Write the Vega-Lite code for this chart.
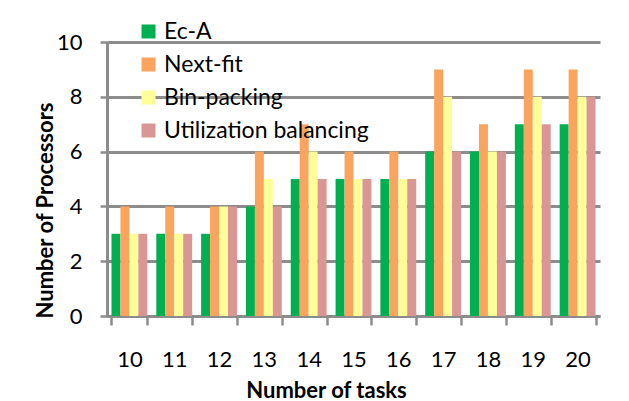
{
  "$schema": "https://vega.github.io/schema/vega-lite/v6.json",
  "width": 493,
  "height": 274,
  "autosize": {"type": "none"},
  "padding": {"left": 107, "top": 42, "right": 29, "bottom": 85},
  "background": "white",
  "config": {
    "font": "Lato",
    "view": {"stroke": null},
    "axis": {"labelFont": "Lato", "titleFont": "Lato", "labelColor": "black", "titleColor": "black"}
  },
  "data": {
    "values": [
      {"tasks": "10", "series": "Ec-A", "value": 3},
      {"tasks": "10", "series": "Next-fit", "value": 4},
      {"tasks": "10", "series": "Bin-packing", "value": 3},
      {"tasks": "10", "series": "Utilization balancing", "value": 3},
      {"tasks": "11", "series": "Ec-A", "value": 3},
      {"tasks": "11", "series": "Next-fit", "value": 4},
      {"tasks": "11", "series": "Bin-packing", "value": 3},
      {"tasks": "11", "series": "Utilization balancing", "value": 3},
      {"tasks": "12", "series": "Ec-A", "value": 3},
      {"tasks": "12", "series": "Next-fit", "value": 4},
      {"tasks": "12", "series": "Bin-packing", "value": 4},
      {"tasks": "12", "series": "Utilization balancing", "value": 4},
      {"tasks": "13", "series": "Ec-A", "value": 4},
      {"tasks": "13", "series": "Next-fit", "value": 6},
      {"tasks": "13", "series": "Bin-packing", "value": 5},
      {"tasks": "13", "series": "Utilization balancing", "value": 4},
      {"tasks": "14", "series": "Ec-A", "value": 5},
      {"tasks": "14", "series": "Next-fit", "value": 7},
      {"tasks": "14", "series": "Bin-packing", "value": 6},
      {"tasks": "14", "series": "Utilization balancing", "value": 5},
      {"tasks": "15", "series": "Ec-A", "value": 5},
      {"tasks": "15", "series": "Next-fit", "value": 6},
      {"tasks": "15", "series": "Bin-packing", "value": 5},
      {"tasks": "15", "series": "Utilization balancing", "value": 5},
      {"tasks": "16", "series": "Ec-A", "value": 5},
      {"tasks": "16", "series": "Next-fit", "value": 6},
      {"tasks": "16", "series": "Bin-packing", "value": 5},
      {"tasks": "16", "series": "Utilization balancing", "value": 5},
      {"tasks": "17", "series": "Ec-A", "value": 6},
      {"tasks": "17", "series": "Next-fit", "value": 9},
      {"tasks": "17", "series": "Bin-packing", "value": 8},
      {"tasks": "17", "series": "Utilization balancing", "value": 6},
      {"tasks": "18", "series": "Ec-A", "value": 6},
      {"tasks": "18", "series": "Next-fit", "value": 7},
      {"tasks": "18", "series": "Bin-packing", "value": 6},
      {"tasks": "18", "series": "Utilization balancing", "value": 6},
      {"tasks": "19", "series": "Ec-A", "value": 7},
      {"tasks": "19", "series": "Next-fit", "value": 9},
      {"tasks": "19", "series": "Bin-packing", "value": 8},
      {"tasks": "19", "series": "Utilization balancing", "value": 7},
      {"tasks": "20", "series": "Ec-A", "value": 7},
      {"tasks": "20", "series": "Next-fit", "value": 9},
      {"tasks": "20", "series": "Bin-packing", "value": 8},
      {"tasks": "20", "series": "Utilization balancing", "value": 8}
    ]
  },
  "mark": {"type": "bar"},
  "encoding": {
    "x": {
      "field": "tasks",
      "type": "ordinal",
      "scale": {"paddingInner": 0.2, "paddingOuter": 0.1},
      "axis": {
        "title": "Number of tasks",
        "titleFontSize": 22,
        "titleFontWeight": "bold",
        "titleX": 219,
        "titleY": 81,
        "titleBaseline": "alphabetic",
        "labelAngle": 0,
        "labelFontSize": 22,
        "labelPadding": 24,
        "tickBand": "extent",
        "tickSize": 9,
        "tickWidth": 2.5,
        "tickColor": "#8c8c8c",
        "domainColor": "#8c8c8c",
        "domainWidth": 3,
        "grid": false
      }
    },
    "xOffset": {
      "field": "series",
      "type": "nominal",
      "sort": ["Ec-A", "Next-fit", "Bin-packing", "Utilization balancing"]
    },
    "y": {
      "field": "value",
      "type": "quantitative",
      "scale": {"domain": [0, 10]},
      "axis": {
        "title": "Number of Processors",
        "titleFontSize": 22,
        "titleFontWeight": "bold",
        "titleX": -62,
        "titleY": 168,
        "titleAngle": -90,
        "titleAlign": "center",
        "titleBaseline": "middle",
        "values": [0, 2, 4, 6, 8, 10],
        "labelFontSize": 22,
        "labelPadding": 18,
        "tickSize": 7,
        "tickWidth": 2.5,
        "tickColor": "#8c8c8c",
        "domainColor": "#8c8c8c",
        "domainWidth": 3,
        "grid": true,
        "gridColor": "#8c8c8c",
        "gridWidth": 3
      }
    },
    "color": {
      "field": "series",
      "type": "nominal",
      "sort": ["Ec-A", "Next-fit", "Bin-packing", "Utilization balancing"],
      "scale": {
        "domain": ["Ec-A", "Next-fit", "Bin-packing", "Utilization balancing"],
        "range": ["#00b050", "#fba45f", "#ffff99", "#d99694"]
      },
      "legend": {
        "title": null,
        "orient": "none",
        "legendX": 30,
        "legendY": -22,
        "symbolType": "square",
        "symbolSize": 196,
        "symbolStrokeWidth": 0,
        "labelFontSize": 23,
        "labelFont": "Lato",
        "labelColor": "black",
        "labelLimit": 0,
        "labelOffset": 4,
        "rowPadding": 9
      }
    }
  }
}
